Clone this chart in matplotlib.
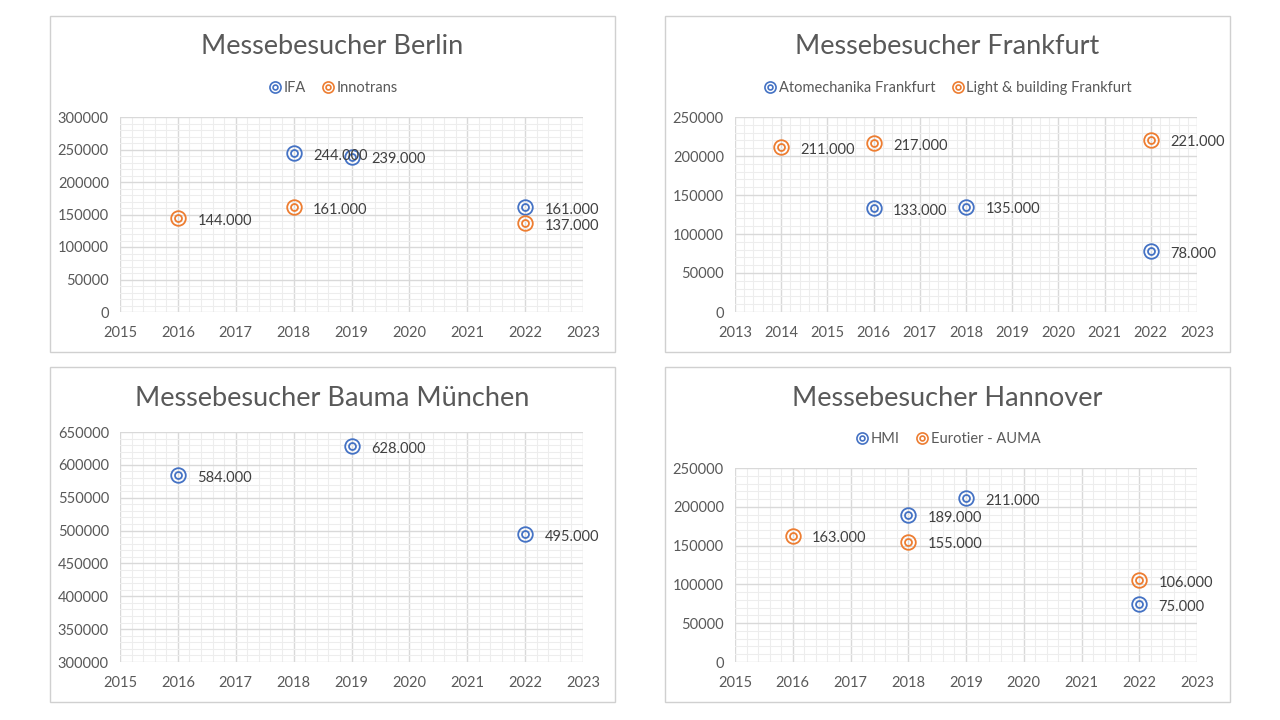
import matplotlib.pyplot as plt
from matplotlib.patches import Rectangle
from matplotlib.lines import Line2D
from matplotlib.ticker import MultipleLocator

# Berlin
berlin_ifa_years = [2018, 2019, 2022]
berlin_ifa_vals = [244000, 239000, 161000]
berlin_inno_years = [2016, 2018, 2022]
berlin_inno_vals = [144000, 161000, 137000]

# Frankfurt
ffm_atom_years = [2016, 2018, 2022]
ffm_atom_vals = [133000, 135000, 78000]
ffm_light_years = [2014, 2016, 2022]
ffm_light_vals = [211000, 217000, 221000]

# Bauma München
bauma_years = [2016, 2019, 2022]
bauma_vals = [584000, 628000, 495000]

# Hannover
hmi_years = [2018, 2019, 2022]
hmi_vals = [189000, 211000, 75000]
euro_years = [2016, 2018, 2022]
euro_vals = [163000, 155000, 106000]

BLUE = '#4472C4'
ORANGE = '#ED7D31'
W, H = 1280, 720
FONT = 'Lato'

fig = plt.figure(figsize=(12.8, 7.2), dpi=100)
fig.patch.set_facecolor('white')


def frect(x0, y0, x1, y1):
    return [x0 / W, 1 - y1 / H, (x1 - x0) / W, (y1 - y0) / H]


def rings(ax, xs, ys, color):
    ax.plot(xs, ys, ls='none', marker='o', ms=10.5, mfc='none', mec=color, mew=1.3, zorder=3)
    ax.plot(xs, ys, ls='none', marker='o', ms=5, mfc='none', mec=color, mew=1.3, zorder=3)
    for x, y in zip(xs, ys):
        ax.annotate(f'{y:,}'.replace(',', '.'), (x, y), xytext=(14, -2),
                    textcoords='offset points', va='center', ha='left',
                    fontsize=10.5, color='#404040', family=FONT, zorder=4)


def legend_handle(color):
    outer = Line2D([], [], ls='none', marker='o', ms=8, mfc='none', mec=color, mew=1.2)
    inner = Line2D([], [], ls='none', marker='o', ms=3.5, mfc='none', mec=color, mew=1.2)
    return (outer, inner)


def panel(box, plot, title, xlim, ylim, series, legend=True):
    bx0, by0, bx1, by1 = box
    fig.patches.append(Rectangle((bx0 / W, 1 - by1 / H), (bx1 - bx0) / W, (by1 - by0) / H,
                                 transform=fig.transFigure, fill=False,
                                 ec='#D0D0D0', lw=1.0))
    cx = (bx0 + bx1) / 2
    fig.text(cx / W, 1 - (by0 + 31) / H, title, ha='center', va='center',
             fontsize=19.5, color='#595959', family=FONT, fontweight='normal')

    ax = fig.add_axes(frect(*plot))
    ax.set_xlim(*xlim)
    ax.set_ylim(*ylim)
    ax.xaxis.set_major_locator(MultipleLocator(1))
    ax.xaxis.set_minor_locator(MultipleLocator(0.2))
    ax.yaxis.set_major_locator(MultipleLocator(50000))
    ax.yaxis.set_minor_locator(MultipleLocator(10000))
    ax.grid(True, which='major', color='#D9D9D9', lw=1.0, zorder=1)
    ax.grid(True, which='minor', color='#EDEDED', lw=0.8, zorder=0)
    ax.set_axisbelow(True)
    for s in ax.spines.values():
        s.set_visible(False)
    ax.tick_params(which='both', length=0, labelsize=10.5, labelcolor='#595959')
    ax.tick_params(axis='x', pad=10)
    ax.tick_params(axis='y', pad=8)
    for lab in ax.get_xticklabels() + ax.get_yticklabels():
        lab.set_family(FONT)

    handles, labels = [], []
    for name, xs, ys, color in series:
        rings(ax, xs, ys, color)
        handles.append(legend_handle(color))
        labels.append(name)
    if legend:
        fig.legend(handles, labels, loc='center', bbox_to_anchor=(cx / W, 1 - (by0 + 72) / H),
                   ncol=len(labels), frameon=False, handletextpad=0.1, columnspacing=1.0,
                   handlelength=1.0, prop={'family': FONT, 'size': 10.5},
                   labelcolor='#595959')
    return ax


panel((50, 16, 615, 352), (120, 117, 583, 312), 'Messebesucher Berlin',
      (2015, 2023), (0, 300000),
      [('IFA', berlin_ifa_years, berlin_ifa_vals, BLUE),
       ('Innotrans', berlin_inno_years, berlin_inno_vals, ORANGE)])

panel((665, 16, 1230, 352), (735, 117, 1197, 312), 'Messebesucher Frankfurt',
      (2013, 2023), (0, 250000),
      [('Atomechanika Frankfurt', ffm_atom_years, ffm_atom_vals, BLUE),
       ('Light & building Frankfurt', ffm_light_years, ffm_light_vals, ORANGE)])

panel((50, 367, 615, 702), (120, 432, 583, 662), 'Messebesucher Bauma München',
      (2015, 2023), (300000, 650000),
      [('Bauma', bauma_years, bauma_vals, BLUE)], legend=False)

panel((665, 367, 1230, 702), (735, 468, 1197, 662), 'Messebesucher Hannover',
      (2015, 2023), (0, 250000),
      [('HMI', hmi_years, hmi_vals, BLUE),
       ('Eurotier - AUMA', euro_years, euro_vals, ORANGE)])

fig.savefig('out.png', dpi=100, facecolor='white')
